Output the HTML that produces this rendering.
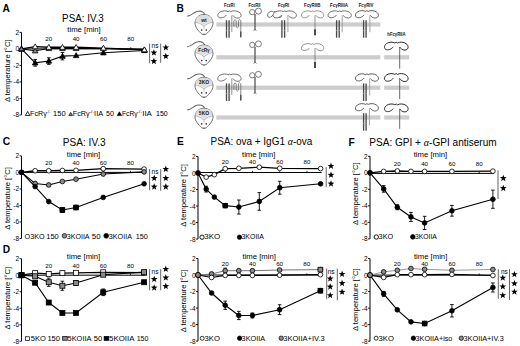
<!DOCTYPE html>
<html><head><meta charset="utf-8"><style>
html,body{margin:0;padding:0;background:#fff;}
svg{display:block;}
text{font-family:"Liberation Sans",sans-serif;}
</style></head><body>
<svg width="520" height="346" viewBox="0 0 520 346">
<rect width="520" height="346" fill="#fff"/>
<text x="2.6" y="11.6" font-size="10.2" text-anchor="start" font-weight="bold" fill="#000" >A</text>
<text x="176.6" y="11.8" font-size="10.2" text-anchor="start" font-weight="bold" fill="#000" >B</text>
<text x="2.8" y="145.4" font-size="10.2" text-anchor="start" font-weight="bold" fill="#000" >C</text>
<text x="2.8" y="253.4" font-size="10.2" text-anchor="start" font-weight="bold" fill="#000" >D</text>
<text x="176.9" y="145.2" font-size="10.2" text-anchor="start" font-weight="bold" fill="#000" >E</text>
<text x="348.6" y="145.5" font-size="10.2" text-anchor="start" font-weight="bold" fill="#000" >F</text>
<text x="62.1" y="21.6" font-size="10.2" text-anchor="start" font-weight="normal" fill="#000" textLength="41.6" lengthAdjust="spacingAndGlyphs">PSA: IV.3</text>
<text x="67.3" y="32.2" font-size="7.4" text-anchor="start" font-weight="normal" fill="#000" textLength="33.4" lengthAdjust="spacingAndGlyphs">time [min]</text>
<line x1="21.5" y1="32.38" x2="21.5" y2="114.98" stroke="#000" stroke-width="1.0"/>
<line x1="19.5" y1="32.38" x2="21.5" y2="32.38" stroke="#000" stroke-width="0.9"/>
<text x="19.1" y="34.88" font-size="6.5" text-anchor="end" font-weight="normal" fill="#000" >2</text>
<line x1="19.5" y1="48.9" x2="21.5" y2="48.9" stroke="#000" stroke-width="0.9"/>
<text x="19.1" y="51.4" font-size="6.5" text-anchor="end" font-weight="normal" fill="#000" >0</text>
<line x1="19.5" y1="65.42" x2="21.5" y2="65.42" stroke="#000" stroke-width="0.9"/>
<text x="19.1" y="67.92" font-size="6.5" text-anchor="end" font-weight="normal" fill="#000" >-2</text>
<line x1="19.5" y1="81.94" x2="21.5" y2="81.94" stroke="#000" stroke-width="0.9"/>
<text x="19.1" y="84.44" font-size="6.5" text-anchor="end" font-weight="normal" fill="#000" >-4</text>
<line x1="19.5" y1="98.46" x2="21.5" y2="98.46" stroke="#000" stroke-width="0.9"/>
<text x="19.1" y="100.96" font-size="6.5" text-anchor="end" font-weight="normal" fill="#000" >-6</text>
<line x1="19.5" y1="114.98" x2="21.5" y2="114.98" stroke="#000" stroke-width="0.9"/>
<text x="19.1" y="117.48" font-size="6.5" text-anchor="end" font-weight="normal" fill="#000" >-8</text>
<line x1="21.5" y1="48.9" x2="145.4" y2="48.9" stroke="#000" stroke-width="1.0"/>
<line x1="48.81" y1="48.9" x2="48.81" y2="47.3" stroke="#000" stroke-width="0.8"/>
<text x="48.81" y="41" font-size="6.2" text-anchor="middle" font-weight="normal" fill="#000" >20</text>
<line x1="76.12" y1="48.9" x2="76.12" y2="47.3" stroke="#000" stroke-width="0.8"/>
<text x="76.12" y="41" font-size="6.2" text-anchor="middle" font-weight="normal" fill="#000" >40</text>
<line x1="103.43" y1="48.9" x2="103.43" y2="47.3" stroke="#000" stroke-width="0.8"/>
<text x="103.43" y="41" font-size="6.2" text-anchor="middle" font-weight="normal" fill="#000" >60</text>
<line x1="130.74" y1="48.9" x2="130.74" y2="47.3" stroke="#000" stroke-width="0.8"/>
<text x="130.74" y="41" font-size="6.2" text-anchor="middle" font-weight="normal" fill="#000" >80</text>
<text transform="translate(10.1,70.8) rotate(-90)" x="0" y="0" font-size="7.6" text-anchor="middle">&#916; temperature [°C]</text>
<polyline points="21.5,48.9 35.16,62.86 48.81,61.04 62.47,56.17 76.12,55.51 103.43,52.78 144.4,50.55" fill="none" stroke="#000" stroke-width="1.1"/>
<path d="M35.16,59.56V66.16M33.36,59.56H36.96M33.36,66.16H36.96" stroke="#000" stroke-width="0.9" fill="none"/>
<path d="M48.81,57.74V64.35M47.01,57.74H50.61M47.01,64.35H50.61" stroke="#000" stroke-width="0.9" fill="none"/>
<path d="M62.47,52.45V59.89M60.67,52.45H64.27M60.67,59.89H64.27" stroke="#000" stroke-width="0.9" fill="none"/>
<polygon points="21.5,46.1 24.3,51 18.7,51" fill="#000" stroke="#000" stroke-width="0.8" stroke-linejoin="round"/>
<polygon points="35.16,60.06 37.96,64.96 32.36,64.96" fill="#000" stroke="#000" stroke-width="0.8" stroke-linejoin="round"/>
<polygon points="48.81,58.24 51.61,63.14 46.01,63.14" fill="#000" stroke="#000" stroke-width="0.8" stroke-linejoin="round"/>
<polygon points="62.47,53.37 65.27,58.27 59.67,58.27" fill="#000" stroke="#000" stroke-width="0.8" stroke-linejoin="round"/>
<polygon points="76.12,52.71 78.92,57.61 73.32,57.61" fill="#000" stroke="#000" stroke-width="0.8" stroke-linejoin="round"/>
<polygon points="103.43,49.98 106.23,54.88 100.63,54.88" fill="#000" stroke="#000" stroke-width="0.8" stroke-linejoin="round"/>
<polygon points="144.4,47.75 147.2,52.65 141.6,52.65" fill="#000" stroke="#000" stroke-width="0.8" stroke-linejoin="round"/>
<polyline points="21.5,48.9 35.16,50.8 48.81,48.49 62.47,48.49 76.12,48.49 103.43,48.49 144.4,49.73" fill="none" stroke="#000" stroke-width="1.0"/>
<polygon points="21.5,46.1 24.3,51 18.7,51" fill="#8a8a8a" stroke="#000" stroke-width="0.8" stroke-linejoin="round"/>
<polygon points="35.16,48 37.96,52.9 32.36,52.9" fill="#8a8a8a" stroke="#000" stroke-width="0.8" stroke-linejoin="round"/>
<polygon points="48.81,45.69 51.61,50.59 46.01,50.59" fill="#8a8a8a" stroke="#000" stroke-width="0.8" stroke-linejoin="round"/>
<polygon points="62.47,45.69 65.27,50.59 59.67,50.59" fill="#8a8a8a" stroke="#000" stroke-width="0.8" stroke-linejoin="round"/>
<polygon points="76.12,45.69 78.92,50.59 73.32,50.59" fill="#8a8a8a" stroke="#000" stroke-width="0.8" stroke-linejoin="round"/>
<polygon points="103.43,45.69 106.23,50.59 100.63,50.59" fill="#8a8a8a" stroke="#000" stroke-width="0.8" stroke-linejoin="round"/>
<polygon points="144.4,46.93 147.2,51.83 141.6,51.83" fill="#8a8a8a" stroke="#000" stroke-width="0.8" stroke-linejoin="round"/>
<polyline points="21.5,48.9 35.16,46.67 48.81,47.25 62.47,47.25 76.12,47.25 103.43,48.07 144.4,49.73" fill="none" stroke="#000" stroke-width="1.3"/>
<polygon points="21.5,46.1 24.3,51 18.7,51" fill="#fff" stroke="#000" stroke-width="0.8" stroke-linejoin="round"/>
<polygon points="35.16,43.87 37.96,48.77 32.36,48.77" fill="#fff" stroke="#000" stroke-width="0.8" stroke-linejoin="round"/>
<polygon points="48.81,44.45 51.61,49.35 46.01,49.35" fill="#fff" stroke="#000" stroke-width="0.8" stroke-linejoin="round"/>
<polygon points="62.47,44.45 65.27,49.35 59.67,49.35" fill="#fff" stroke="#000" stroke-width="0.8" stroke-linejoin="round"/>
<polygon points="76.12,44.45 78.92,49.35 73.32,49.35" fill="#fff" stroke="#000" stroke-width="0.8" stroke-linejoin="round"/>
<polygon points="103.43,45.27 106.23,50.17 100.63,50.17" fill="#fff" stroke="#000" stroke-width="0.8" stroke-linejoin="round"/>
<polygon points="144.4,46.93 147.2,51.83 141.6,51.83" fill="#fff" stroke="#000" stroke-width="0.8" stroke-linejoin="round"/>
<polygon points="21.5,46.52 23.88,50.68 19.12,50.68" fill="#8a8a8a" stroke="#000" stroke-width="0.8" stroke-linejoin="round"/>
<line x1="149.6" y1="43.6" x2="149.6" y2="63.3" stroke="#555" stroke-width="0.9"/>
<line x1="160.7" y1="43.6" x2="160.7" y2="62.8" stroke="#555" stroke-width="0.9"/>
<text x="155" y="48.2" font-size="6.5" text-anchor="middle" font-weight="normal" fill="#000" >ns</text>
<polygon points="153.9,49.2 154.76,51.51 157.23,51.62 155.3,53.15 155.96,55.53 153.9,54.17 151.84,55.53 152.5,53.15 150.57,51.62 153.04,51.51" fill="#000"/>
<polygon points="153.9,57.8 154.76,60.11 157.23,60.22 155.3,61.75 155.96,64.13 153.9,62.77 151.84,64.13 152.5,61.75 150.57,60.22 153.04,60.11" fill="#000"/>
<polygon points="165.8,44.1 166.66,46.41 169.13,46.52 167.2,48.05 167.86,50.43 165.8,49.07 163.74,50.43 164.4,48.05 162.47,46.52 164.94,46.41" fill="#000"/>
<polygon points="165.8,52.7 166.66,55.01 169.13,55.12 167.2,56.65 167.86,59.03 165.8,57.67 163.74,59.03 164.4,56.65 162.47,55.12 164.94,55.01" fill="#000"/>
<text x="62.8" y="145.6" font-size="10.2" text-anchor="start" font-weight="normal" fill="#000" textLength="42.8" lengthAdjust="spacingAndGlyphs">PSA: IV.3</text>
<text x="66.8" y="157" font-size="7.4" text-anchor="start" font-weight="normal" fill="#000" textLength="33.4" lengthAdjust="spacingAndGlyphs">time [min]</text>
<line x1="21.5" y1="155.88" x2="21.5" y2="238.48" stroke="#000" stroke-width="1.0"/>
<line x1="19.5" y1="155.88" x2="21.5" y2="155.88" stroke="#000" stroke-width="0.9"/>
<text x="19.1" y="158.38" font-size="6.5" text-anchor="end" font-weight="normal" fill="#000" >2</text>
<line x1="19.5" y1="172.4" x2="21.5" y2="172.4" stroke="#000" stroke-width="0.9"/>
<text x="19.1" y="174.9" font-size="6.5" text-anchor="end" font-weight="normal" fill="#000" >0</text>
<line x1="19.5" y1="188.92" x2="21.5" y2="188.92" stroke="#000" stroke-width="0.9"/>
<text x="19.1" y="191.42" font-size="6.5" text-anchor="end" font-weight="normal" fill="#000" >-2</text>
<line x1="19.5" y1="205.44" x2="21.5" y2="205.44" stroke="#000" stroke-width="0.9"/>
<text x="19.1" y="207.94" font-size="6.5" text-anchor="end" font-weight="normal" fill="#000" >-4</text>
<line x1="19.5" y1="221.96" x2="21.5" y2="221.96" stroke="#000" stroke-width="0.9"/>
<text x="19.1" y="224.46" font-size="6.5" text-anchor="end" font-weight="normal" fill="#000" >-6</text>
<line x1="19.5" y1="238.48" x2="21.5" y2="238.48" stroke="#000" stroke-width="0.9"/>
<text x="19.1" y="240.98" font-size="6.5" text-anchor="end" font-weight="normal" fill="#000" >-8</text>
<line x1="21.5" y1="172.4" x2="145.1" y2="172.4" stroke="#000" stroke-width="1.0"/>
<line x1="48.74" y1="172.4" x2="48.74" y2="170.8" stroke="#000" stroke-width="0.8"/>
<text x="48.74" y="164.9" font-size="6.2" text-anchor="middle" font-weight="normal" fill="#000" >20</text>
<line x1="75.99" y1="172.4" x2="75.99" y2="170.8" stroke="#000" stroke-width="0.8"/>
<text x="75.99" y="164.9" font-size="6.2" text-anchor="middle" font-weight="normal" fill="#000" >40</text>
<line x1="103.23" y1="172.4" x2="103.23" y2="170.8" stroke="#000" stroke-width="0.8"/>
<text x="103.23" y="164.9" font-size="6.2" text-anchor="middle" font-weight="normal" fill="#000" >60</text>
<line x1="130.48" y1="172.4" x2="130.48" y2="170.8" stroke="#000" stroke-width="0.8"/>
<text x="130.48" y="164.9" font-size="6.2" text-anchor="middle" font-weight="normal" fill="#000" >80</text>
<text transform="translate(10.1,198.5) rotate(-90)" x="0" y="0" font-size="7.6" text-anchor="middle">&#916; temperature [°C]</text>
<polyline points="21.5,172.4 35.12,170.75 48.74,170.75 62.37,170.5 75.99,170.34 103.23,168.68 144.1,169.1" fill="none" stroke="#000" stroke-width="1.3"/>
<circle cx="21.5" cy="172.4" r="2.35" fill="#fff" stroke="#000" stroke-width="0.8"/>
<circle cx="35.12" cy="170.75" r="2.35" fill="#fff" stroke="#000" stroke-width="0.8"/>
<circle cx="48.74" cy="170.75" r="2.35" fill="#fff" stroke="#000" stroke-width="0.8"/>
<circle cx="62.37" cy="170.5" r="2.35" fill="#fff" stroke="#000" stroke-width="0.8"/>
<circle cx="75.99" cy="170.34" r="2.35" fill="#fff" stroke="#000" stroke-width="0.8"/>
<circle cx="103.23" cy="168.68" r="2.35" fill="#fff" stroke="#000" stroke-width="0.8"/>
<circle cx="144.1" cy="169.1" r="2.35" fill="#fff" stroke="#000" stroke-width="0.8"/>
<polyline points="21.5,172.4 35.12,183.47 48.74,184.96 62.37,181.49 75.99,179.17 103.23,174.05 144.1,171.9" fill="none" stroke="#000" stroke-width="1.1"/>
<circle cx="21.5" cy="172.4" r="2.35" fill="#8a8a8a" stroke="#000" stroke-width="0.8"/>
<circle cx="35.12" cy="183.47" r="2.35" fill="#8a8a8a" stroke="#000" stroke-width="0.8"/>
<circle cx="48.74" cy="184.96" r="2.35" fill="#8a8a8a" stroke="#000" stroke-width="0.8"/>
<circle cx="62.37" cy="181.49" r="2.35" fill="#8a8a8a" stroke="#000" stroke-width="0.8"/>
<circle cx="75.99" cy="179.17" r="2.35" fill="#8a8a8a" stroke="#000" stroke-width="0.8"/>
<circle cx="103.23" cy="174.05" r="2.35" fill="#8a8a8a" stroke="#000" stroke-width="0.8"/>
<circle cx="144.1" cy="171.9" r="2.35" fill="#8a8a8a" stroke="#000" stroke-width="0.8"/>
<polyline points="21.5,172.4 35.12,186.61 48.74,201.56 62.37,209.98 75.99,207.5 103.23,197.43 144.1,183.8" fill="none" stroke="#000" stroke-width="1.1"/>
<path d="M62.37,207.5V212.46M60.57,207.5H64.17M60.57,212.46H64.17" stroke="#000" stroke-width="0.9" fill="none"/>
<path d="M75.99,205.44V209.57M74.19,205.44H77.79M74.19,209.57H77.79" stroke="#000" stroke-width="0.9" fill="none"/>
<circle cx="21.5" cy="172.4" r="2.35" fill="#000" stroke="#000" stroke-width="0.8"/>
<circle cx="35.12" cy="186.61" r="2.35" fill="#000" stroke="#000" stroke-width="0.8"/>
<circle cx="48.74" cy="201.56" r="2.35" fill="#000" stroke="#000" stroke-width="0.8"/>
<circle cx="62.37" cy="209.98" r="2.35" fill="#000" stroke="#000" stroke-width="0.8"/>
<circle cx="75.99" cy="207.5" r="2.35" fill="#000" stroke="#000" stroke-width="0.8"/>
<circle cx="103.23" cy="197.43" r="2.35" fill="#000" stroke="#000" stroke-width="0.8"/>
<circle cx="144.1" cy="183.8" r="2.35" fill="#000" stroke="#000" stroke-width="0.8"/>
<rect x="59.99" y="207.61" width="4.75" height="4.75" fill="#000" stroke="#000" stroke-width="0.8"/>
<rect x="73.61" y="205.13" width="4.75" height="4.75" fill="#000" stroke="#000" stroke-width="0.8"/>
<line x1="149.6" y1="169.1" x2="149.6" y2="190.3" stroke="#555" stroke-width="0.9"/>
<line x1="160.7" y1="169.1" x2="160.7" y2="190.8" stroke="#555" stroke-width="0.9"/>
<text x="155" y="173.8" font-size="6.5" text-anchor="middle" font-weight="normal" fill="#000" >ns</text>
<polygon points="154.2,174.7 155.06,177.01 157.53,177.12 155.6,178.65 156.26,181.03 154.2,179.67 152.14,181.03 152.8,178.65 150.87,177.12 153.34,177.01" fill="#000"/>
<polygon points="154.2,183.3 155.06,185.61 157.53,185.72 155.6,187.25 156.26,189.63 154.2,188.27 152.14,189.63 152.8,187.25 150.87,185.72 153.34,185.61" fill="#000"/>
<polygon points="165.8,165.6 166.66,167.91 169.13,168.02 167.2,169.55 167.86,171.93 165.8,170.57 163.74,171.93 164.4,169.55 162.47,168.02 164.94,167.91" fill="#000"/>
<polygon points="165.8,174.7 166.66,177.01 169.13,177.12 167.2,178.65 167.86,181.03 165.8,179.67 163.74,181.03 164.4,178.65 162.47,177.12 164.94,177.01" fill="#000"/>
<polygon points="165.8,183.3 166.66,185.61 169.13,185.72 167.2,187.25 167.86,189.63 165.8,188.27 163.74,189.63 164.4,187.25 162.47,185.72 164.94,185.61" fill="#000"/>
<text x="66.8" y="258.8" font-size="7.4" text-anchor="start" font-weight="normal" fill="#000" textLength="33.4" lengthAdjust="spacingAndGlyphs">time [min]</text>
<line x1="21.5" y1="258.68" x2="21.5" y2="341.28" stroke="#000" stroke-width="1.0"/>
<line x1="19.5" y1="258.68" x2="21.5" y2="258.68" stroke="#000" stroke-width="0.9"/>
<text x="19.1" y="261.18" font-size="6.5" text-anchor="end" font-weight="normal" fill="#000" >2</text>
<line x1="19.5" y1="275.2" x2="21.5" y2="275.2" stroke="#000" stroke-width="0.9"/>
<text x="19.1" y="277.7" font-size="6.5" text-anchor="end" font-weight="normal" fill="#000" >0</text>
<line x1="19.5" y1="291.72" x2="21.5" y2="291.72" stroke="#000" stroke-width="0.9"/>
<text x="19.1" y="294.22" font-size="6.5" text-anchor="end" font-weight="normal" fill="#000" >-2</text>
<line x1="19.5" y1="308.24" x2="21.5" y2="308.24" stroke="#000" stroke-width="0.9"/>
<text x="19.1" y="310.74" font-size="6.5" text-anchor="end" font-weight="normal" fill="#000" >-4</text>
<line x1="19.5" y1="324.76" x2="21.5" y2="324.76" stroke="#000" stroke-width="0.9"/>
<text x="19.1" y="327.26" font-size="6.5" text-anchor="end" font-weight="normal" fill="#000" >-6</text>
<line x1="19.5" y1="341.28" x2="21.5" y2="341.28" stroke="#000" stroke-width="0.9"/>
<text x="19.1" y="343.78" font-size="6.5" text-anchor="end" font-weight="normal" fill="#000" >-8</text>
<line x1="21.5" y1="275.2" x2="145.1" y2="275.2" stroke="#000" stroke-width="1.0"/>
<line x1="48.74" y1="275.2" x2="48.74" y2="273.6" stroke="#000" stroke-width="0.8"/>
<text x="48.74" y="267.8" font-size="6.2" text-anchor="middle" font-weight="normal" fill="#000" >20</text>
<line x1="75.99" y1="275.2" x2="75.99" y2="273.6" stroke="#000" stroke-width="0.8"/>
<text x="75.99" y="267.8" font-size="6.2" text-anchor="middle" font-weight="normal" fill="#000" >40</text>
<line x1="103.23" y1="275.2" x2="103.23" y2="273.6" stroke="#000" stroke-width="0.8"/>
<text x="103.23" y="267.8" font-size="6.2" text-anchor="middle" font-weight="normal" fill="#000" >60</text>
<line x1="130.48" y1="275.2" x2="130.48" y2="273.6" stroke="#000" stroke-width="0.8"/>
<text x="130.48" y="267.8" font-size="6.2" text-anchor="middle" font-weight="normal" fill="#000" >80</text>
<text transform="translate(10.1,298.2) rotate(-90)" x="0" y="0" font-size="7.6" text-anchor="middle">&#916; temperature [°C]</text>
<polyline points="21.5,275.2 35.12,273.13 48.74,273.88 62.37,273.13 75.99,272.8 103.23,272.31 144.1,272.72" fill="none" stroke="#000" stroke-width="1.3"/>
<rect x="19" y="272.7" width="5" height="5" fill="#fff" stroke="#000" stroke-width="0.8"/>
<rect x="32.62" y="270.63" width="5" height="5" fill="#fff" stroke="#000" stroke-width="0.8"/>
<rect x="46.24" y="271.38" width="5" height="5" fill="#fff" stroke="#000" stroke-width="0.8"/>
<rect x="59.87" y="270.63" width="5" height="5" fill="#fff" stroke="#000" stroke-width="0.8"/>
<rect x="73.49" y="270.3" width="5" height="5" fill="#fff" stroke="#000" stroke-width="0.8"/>
<rect x="100.73" y="269.81" width="5" height="5" fill="#fff" stroke="#000" stroke-width="0.8"/>
<rect x="141.6" y="270.22" width="5" height="5" fill="#fff" stroke="#000" stroke-width="0.8"/>
<polyline points="21.5,275.2 35.12,276.27 48.74,282.22 62.37,285.77 75.99,282.96 103.23,274.7 144.1,272.14" fill="none" stroke="#000" stroke-width="1.1"/>
<path d="M48.74,278.09V286.35M46.94,278.09H50.54M46.94,286.35H50.54" stroke="#000" stroke-width="0.9" fill="none"/>
<path d="M62.37,281.23V290.32M60.57,281.23H64.17M60.57,290.32H64.17" stroke="#000" stroke-width="0.9" fill="none"/>
<path d="M75.99,280.49V285.44M74.19,280.49H77.79M74.19,285.44H77.79" stroke="#000" stroke-width="0.9" fill="none"/>
<rect x="19" y="272.7" width="5" height="5" fill="#8a8a8a" stroke="#000" stroke-width="0.8"/>
<rect x="32.62" y="273.77" width="5" height="5" fill="#8a8a8a" stroke="#000" stroke-width="0.8"/>
<rect x="46.24" y="279.72" width="5" height="5" fill="#8a8a8a" stroke="#000" stroke-width="0.8"/>
<rect x="59.87" y="283.27" width="5" height="5" fill="#8a8a8a" stroke="#000" stroke-width="0.8"/>
<rect x="73.49" y="280.46" width="5" height="5" fill="#8a8a8a" stroke="#000" stroke-width="0.8"/>
<rect x="100.73" y="272.2" width="5" height="5" fill="#8a8a8a" stroke="#000" stroke-width="0.8"/>
<rect x="141.6" y="269.64" width="5" height="5" fill="#8a8a8a" stroke="#000" stroke-width="0.8"/>
<polyline points="21.5,275.2 35.12,282.72 48.74,302.54 62.37,312.95 75.99,312.95 103.23,292.3 144.1,282.22" fill="none" stroke="#000" stroke-width="1.1"/>
<path d="M103.23,288.99V295.6M101.43,288.99H105.03M101.43,295.6H105.03" stroke="#000" stroke-width="0.9" fill="none"/>
<rect x="19" y="272.7" width="5" height="5" fill="#000" stroke="#000" stroke-width="0.8"/>
<rect x="32.62" y="280.22" width="5" height="5" fill="#000" stroke="#000" stroke-width="0.8"/>
<rect x="46.24" y="300.04" width="5" height="5" fill="#000" stroke="#000" stroke-width="0.8"/>
<rect x="59.87" y="310.45" width="5" height="5" fill="#000" stroke="#000" stroke-width="0.8"/>
<rect x="73.49" y="310.45" width="5" height="5" fill="#000" stroke="#000" stroke-width="0.8"/>
<rect x="100.73" y="289.8" width="5" height="5" fill="#000" stroke="#000" stroke-width="0.8"/>
<rect x="141.6" y="279.72" width="5" height="5" fill="#000" stroke="#000" stroke-width="0.8"/>
<line x1="149.6" y1="269.1" x2="149.6" y2="290.3" stroke="#555" stroke-width="0.9"/>
<line x1="160.7" y1="269.1" x2="160.7" y2="290.3" stroke="#555" stroke-width="0.9"/>
<text x="155" y="273.8" font-size="6.5" text-anchor="middle" font-weight="normal" fill="#000" >ns</text>
<polygon points="154.2,275.7 155.06,278.01 157.53,278.12 155.6,279.65 156.26,282.03 154.2,280.67 152.14,282.03 152.8,279.65 150.87,278.12 153.34,278.01" fill="#000"/>
<polygon points="154.2,284.3 155.06,286.61 157.53,286.72 155.6,288.25 156.26,290.63 154.2,289.27 152.14,290.63 152.8,288.25 150.87,286.72 153.34,286.61" fill="#000"/>
<polygon points="165.8,265.6 166.66,267.91 169.13,268.02 167.2,269.55 167.86,271.93 165.8,270.57 163.74,271.93 164.4,269.55 162.47,268.02 164.94,267.91" fill="#000"/>
<polygon points="165.8,274.2 166.66,276.51 169.13,276.62 167.2,278.15 167.86,280.53 165.8,279.17 163.74,280.53 164.4,278.15 162.47,276.62 164.94,276.51" fill="#000"/>
<polygon points="165.8,282.8 166.66,285.11 169.13,285.22 167.2,286.75 167.86,289.13 165.8,287.77 163.74,289.13 164.4,286.75 162.47,285.22 164.94,285.11" fill="#000"/>
<text x="210.5" y="145.4" font-size="10.2" text-anchor="start" font-weight="normal" fill="#000" textLength="101.8" lengthAdjust="spacingAndGlyphs">PSA: ova + IgG1 <tspan font-family="Liberation Serif" font-style="italic">α</tspan>-ova</text>
<text x="242" y="156.8" font-size="7.4" text-anchor="start" font-weight="normal" fill="#000" textLength="33.4" lengthAdjust="spacingAndGlyphs">time [min]</text>
<line x1="198" y1="156.48" x2="198" y2="239.08" stroke="#000" stroke-width="1.0"/>
<line x1="196" y1="156.48" x2="198" y2="156.48" stroke="#000" stroke-width="0.9"/>
<text x="195.6" y="158.98" font-size="6.5" text-anchor="end" font-weight="normal" fill="#000" >2</text>
<line x1="196" y1="173" x2="198" y2="173" stroke="#000" stroke-width="0.9"/>
<text x="195.6" y="175.5" font-size="6.5" text-anchor="end" font-weight="normal" fill="#000" >0</text>
<line x1="196" y1="189.52" x2="198" y2="189.52" stroke="#000" stroke-width="0.9"/>
<text x="195.6" y="192.02" font-size="6.5" text-anchor="end" font-weight="normal" fill="#000" >-2</text>
<line x1="196" y1="206.04" x2="198" y2="206.04" stroke="#000" stroke-width="0.9"/>
<text x="195.6" y="208.54" font-size="6.5" text-anchor="end" font-weight="normal" fill="#000" >-4</text>
<line x1="196" y1="222.56" x2="198" y2="222.56" stroke="#000" stroke-width="0.9"/>
<text x="195.6" y="225.06" font-size="6.5" text-anchor="end" font-weight="normal" fill="#000" >-6</text>
<line x1="196" y1="239.08" x2="198" y2="239.08" stroke="#000" stroke-width="0.9"/>
<text x="195.6" y="241.58" font-size="6.5" text-anchor="end" font-weight="normal" fill="#000" >-8</text>
<line x1="198" y1="172.5" x2="321.6" y2="172.5" stroke="#000" stroke-width="1.0"/>
<line x1="225.24" y1="172.5" x2="225.24" y2="170.9" stroke="#000" stroke-width="0.8"/>
<text x="225.24" y="163.6" font-size="6.2" text-anchor="middle" font-weight="normal" fill="#000" >20</text>
<line x1="252.49" y1="172.5" x2="252.49" y2="170.9" stroke="#000" stroke-width="0.8"/>
<text x="252.49" y="163.6" font-size="6.2" text-anchor="middle" font-weight="normal" fill="#000" >40</text>
<line x1="279.73" y1="172.5" x2="279.73" y2="170.9" stroke="#000" stroke-width="0.8"/>
<text x="279.73" y="163.6" font-size="6.2" text-anchor="middle" font-weight="normal" fill="#000" >60</text>
<line x1="306.98" y1="172.5" x2="306.98" y2="170.9" stroke="#000" stroke-width="0.8"/>
<text x="306.98" y="163.6" font-size="6.2" text-anchor="middle" font-weight="normal" fill="#000" >80</text>
<text transform="translate(185.9,195.4) rotate(-90)" x="0" y="0" font-size="7.6" text-anchor="middle">&#916; temperature [°C]</text>
<polyline points="198,173 206.17,177.13 214.35,174.65 225.24,168.7 238.87,168.29 259.3,167.22 279.73,168.29 320.6,168.62" fill="none" stroke="#000" stroke-width="1.2"/>
<circle cx="198" cy="173" r="2.35" fill="#fff" stroke="#000" stroke-width="0.8"/>
<circle cx="206.17" cy="177.13" r="2.35" fill="#fff" stroke="#000" stroke-width="0.8"/>
<circle cx="214.35" cy="174.65" r="2.35" fill="#fff" stroke="#000" stroke-width="0.8"/>
<circle cx="225.24" cy="168.7" r="2.35" fill="#fff" stroke="#000" stroke-width="0.8"/>
<circle cx="238.87" cy="168.29" r="2.35" fill="#fff" stroke="#000" stroke-width="0.8"/>
<circle cx="259.3" cy="167.22" r="2.35" fill="#fff" stroke="#000" stroke-width="0.8"/>
<circle cx="279.73" cy="168.29" r="2.35" fill="#fff" stroke="#000" stroke-width="0.8"/>
<circle cx="320.6" cy="168.62" r="2.35" fill="#fff" stroke="#000" stroke-width="0.8"/>
<polyline points="198,173 206.17,189.11 214.35,197.12 225.24,205.63 238.87,207.03 259.3,201.41 279.73,187.7 320.6,183.82" fill="none" stroke="#000" stroke-width="1.1"/>
<path d="M206.17,186.22V192M204.37,186.22H207.97M204.37,192H207.97" stroke="#000" stroke-width="0.9" fill="none"/>
<path d="M225.24,203.97V207.28M223.44,203.97H227.04M223.44,207.28H227.04" stroke="#000" stroke-width="0.9" fill="none"/>
<path d="M238.87,200.01V214.05M237.07,200.01H240.67M237.07,214.05H240.67" stroke="#000" stroke-width="0.9" fill="none"/>
<path d="M259.3,192.58V210.25M257.5,192.58H261.1M257.5,210.25H261.1" stroke="#000" stroke-width="0.9" fill="none"/>
<path d="M279.73,181.26V194.15M277.93,181.26H281.53M277.93,194.15H281.53" stroke="#000" stroke-width="0.9" fill="none"/>
<circle cx="198" cy="173" r="2.35" fill="#000" stroke="#000" stroke-width="0.8"/>
<circle cx="206.17" cy="189.11" r="2.35" fill="#000" stroke="#000" stroke-width="0.8"/>
<circle cx="214.35" cy="197.12" r="2.35" fill="#000" stroke="#000" stroke-width="0.8"/>
<circle cx="225.24" cy="205.63" r="2.35" fill="#000" stroke="#000" stroke-width="0.8"/>
<circle cx="238.87" cy="207.03" r="2.35" fill="#000" stroke="#000" stroke-width="0.8"/>
<circle cx="259.3" cy="201.41" r="2.35" fill="#000" stroke="#000" stroke-width="0.8"/>
<circle cx="279.73" cy="187.7" r="2.35" fill="#000" stroke="#000" stroke-width="0.8"/>
<circle cx="320.6" cy="183.82" r="2.35" fill="#000" stroke="#000" stroke-width="0.8"/>
<rect x="222.99" y="203.38" width="4.5" height="4.5" fill="#000" stroke="#000" stroke-width="0.8"/>
<line x1="326.2" y1="167.1" x2="326.2" y2="186.8" stroke="#555" stroke-width="0.9"/>
<polygon points="331,162.6 331.86,164.91 334.33,165.02 332.4,166.55 333.06,168.93 331,167.57 328.94,168.93 329.6,166.55 327.67,165.02 330.14,164.91" fill="#000"/>
<polygon points="331,171.5 331.86,173.81 334.33,173.92 332.4,175.45 333.06,177.83 331,176.47 328.94,177.83 329.6,175.45 327.67,173.92 330.14,173.81" fill="#000"/>
<polygon points="331,180.3 331.86,182.61 334.33,182.72 332.4,184.25 333.06,186.63 331,185.27 328.94,186.63 329.6,184.25 327.67,182.72 330.14,182.61" fill="#000"/>
<text x="242.5" y="258.8" font-size="7.4" text-anchor="start" font-weight="normal" fill="#000" textLength="33.4" lengthAdjust="spacingAndGlyphs">time [min]</text>
<line x1="198" y1="258.48" x2="198" y2="341.08" stroke="#000" stroke-width="1.0"/>
<line x1="196" y1="258.48" x2="198" y2="258.48" stroke="#000" stroke-width="0.9"/>
<text x="195.6" y="260.98" font-size="6.5" text-anchor="end" font-weight="normal" fill="#000" >2</text>
<line x1="196" y1="275" x2="198" y2="275" stroke="#000" stroke-width="0.9"/>
<text x="195.6" y="277.5" font-size="6.5" text-anchor="end" font-weight="normal" fill="#000" >0</text>
<line x1="196" y1="291.52" x2="198" y2="291.52" stroke="#000" stroke-width="0.9"/>
<text x="195.6" y="294.02" font-size="6.5" text-anchor="end" font-weight="normal" fill="#000" >-2</text>
<line x1="196" y1="308.04" x2="198" y2="308.04" stroke="#000" stroke-width="0.9"/>
<text x="195.6" y="310.54" font-size="6.5" text-anchor="end" font-weight="normal" fill="#000" >-4</text>
<line x1="196" y1="324.56" x2="198" y2="324.56" stroke="#000" stroke-width="0.9"/>
<text x="195.6" y="327.06" font-size="6.5" text-anchor="end" font-weight="normal" fill="#000" >-6</text>
<line x1="196" y1="341.08" x2="198" y2="341.08" stroke="#000" stroke-width="0.9"/>
<text x="195.6" y="343.58" font-size="6.5" text-anchor="end" font-weight="normal" fill="#000" >-8</text>
<line x1="198" y1="275" x2="321.4" y2="275" stroke="#000" stroke-width="1.0"/>
<line x1="225.2" y1="275" x2="225.2" y2="273.4" stroke="#000" stroke-width="0.8"/>
<text x="225.2" y="265.8" font-size="6.2" text-anchor="middle" font-weight="normal" fill="#000" >20</text>
<line x1="252.4" y1="275" x2="252.4" y2="273.4" stroke="#000" stroke-width="0.8"/>
<text x="252.4" y="265.8" font-size="6.2" text-anchor="middle" font-weight="normal" fill="#000" >40</text>
<line x1="279.6" y1="275" x2="279.6" y2="273.4" stroke="#000" stroke-width="0.8"/>
<text x="279.6" y="265.8" font-size="6.2" text-anchor="middle" font-weight="normal" fill="#000" >60</text>
<line x1="306.8" y1="275" x2="306.8" y2="273.4" stroke="#000" stroke-width="0.8"/>
<text x="306.8" y="265.8" font-size="6.2" text-anchor="middle" font-weight="normal" fill="#000" >80</text>
<text transform="translate(185.9,301) rotate(-90)" x="0" y="0" font-size="7.6" text-anchor="middle">&#916; temperature [°C]</text>
<polyline points="198,275 211.6,273.93 225.2,270.7 238.8,270.7 252.4,270.7 279.6,270.04 320.4,269.63" fill="none" stroke="#777" stroke-width="1.0"/>
<path d="M225.2,268.23V273.18M223.4,268.23H227M223.4,273.18H227" stroke="#000" stroke-width="0.9" fill="none"/>
<circle cx="198" cy="275" r="2.35" fill="#8a8a8a" stroke="#000" stroke-width="0.8"/>
<circle cx="211.6" cy="273.93" r="2.35" fill="#8a8a8a" stroke="#000" stroke-width="0.8"/>
<circle cx="225.2" cy="270.7" r="2.35" fill="#8a8a8a" stroke="#000" stroke-width="0.8"/>
<circle cx="238.8" cy="270.7" r="2.35" fill="#8a8a8a" stroke="#000" stroke-width="0.8"/>
<circle cx="252.4" cy="270.7" r="2.35" fill="#8a8a8a" stroke="#000" stroke-width="0.8"/>
<circle cx="279.6" cy="270.04" r="2.35" fill="#8a8a8a" stroke="#000" stroke-width="0.8"/>
<circle cx="320.4" cy="269.63" r="2.35" fill="#8a8a8a" stroke="#000" stroke-width="0.8"/>
<polyline points="198,275 211.6,277.48 225.2,275.41 238.8,275.41 252.4,275.41 279.6,275.17 320.4,274.67" fill="none" stroke="#000" stroke-width="1.2"/>
<circle cx="198" cy="275" r="2.35" fill="#fff" stroke="#000" stroke-width="0.8"/>
<circle cx="211.6" cy="277.48" r="2.35" fill="#fff" stroke="#000" stroke-width="0.8"/>
<circle cx="225.2" cy="275.41" r="2.35" fill="#fff" stroke="#000" stroke-width="0.8"/>
<circle cx="238.8" cy="275.41" r="2.35" fill="#fff" stroke="#000" stroke-width="0.8"/>
<circle cx="252.4" cy="275.41" r="2.35" fill="#fff" stroke="#000" stroke-width="0.8"/>
<circle cx="279.6" cy="275.17" r="2.35" fill="#fff" stroke="#000" stroke-width="0.8"/>
<circle cx="320.4" cy="274.67" r="2.35" fill="#fff" stroke="#000" stroke-width="0.8"/>
<polyline points="198,275 211.6,293.01 225.2,305.23 238.8,315.47 252.4,315.47 279.6,309.69 320.4,290.69" fill="none" stroke="#000" stroke-width="1.1"/>
<path d="M225.2,301.1V309.36M223.4,301.1H227M223.4,309.36H227" stroke="#000" stroke-width="0.9" fill="none"/>
<path d="M238.8,311.34V319.6M237,311.34H240.6M237,319.6H240.6" stroke="#000" stroke-width="0.9" fill="none"/>
<path d="M252.4,313V317.95M250.6,313H254.2M250.6,317.95H254.2" stroke="#000" stroke-width="0.9" fill="none"/>
<path d="M279.6,304.74V314.65M277.8,304.74H281.4M277.8,314.65H281.4" stroke="#000" stroke-width="0.9" fill="none"/>
<circle cx="198" cy="275" r="2.35" fill="#000" stroke="#000" stroke-width="0.8"/>
<circle cx="211.6" cy="293.01" r="2.35" fill="#000" stroke="#000" stroke-width="0.8"/>
<circle cx="225.2" cy="305.23" r="2.35" fill="#000" stroke="#000" stroke-width="0.8"/>
<circle cx="238.8" cy="315.47" r="2.35" fill="#000" stroke="#000" stroke-width="0.8"/>
<circle cx="252.4" cy="315.47" r="2.35" fill="#000" stroke="#000" stroke-width="0.8"/>
<circle cx="279.6" cy="309.69" r="2.35" fill="#000" stroke="#000" stroke-width="0.8"/>
<circle cx="320.4" cy="290.69" r="2.35" fill="#000" stroke="#000" stroke-width="0.8"/>
<circle cx="198" cy="275" r="2.47" fill="#8a8a8a" stroke="#000" stroke-width="0.8"/>
<rect x="318.02" y="267.26" width="4.75" height="4.75" fill="#8a8a8a" stroke="#000" stroke-width="0.8"/>
<rect x="318.02" y="288.32" width="4.75" height="4.75" fill="#000" stroke="#000" stroke-width="0.8"/>
<line x1="326.7" y1="268.6" x2="326.7" y2="299.2" stroke="#555" stroke-width="0.9"/>
<line x1="337.3" y1="268.6" x2="337.3" y2="300.2" stroke="#555" stroke-width="0.9"/>
<text x="331.2" y="273.6" font-size="6.5" text-anchor="middle" font-weight="normal" fill="#000" >ns</text>
<polygon points="330.2,275.2 331.06,277.51 333.53,277.62 331.6,279.15 332.26,281.53 330.2,280.17 328.14,281.53 328.8,279.15 326.87,277.62 329.34,277.51" fill="#000"/>
<polygon points="330.2,283.3 331.06,285.61 333.53,285.72 331.6,287.25 332.26,289.63 330.2,288.27 328.14,289.63 328.8,287.25 326.87,285.72 329.34,285.61" fill="#000"/>
<polygon points="330.2,291.9 331.06,294.21 333.53,294.32 331.6,295.85 332.26,298.23 330.2,296.87 328.14,298.23 328.8,295.85 326.87,294.32 329.34,294.21" fill="#000"/>
<polygon points="342.1,270.6 342.96,272.91 345.43,273.02 343.5,274.55 344.16,276.93 342.1,275.57 340.04,276.93 340.7,274.55 338.77,273.02 341.24,272.91" fill="#000"/>
<polygon points="342.1,279.8 342.96,282.11 345.43,282.22 343.5,283.75 344.16,286.13 342.1,284.77 340.04,286.13 340.7,283.75 338.77,282.22 341.24,282.11" fill="#000"/>
<polygon points="342.1,288.5 342.96,290.81 345.43,290.92 343.5,292.45 344.16,294.83 342.1,293.47 340.04,294.83 340.7,292.45 338.77,290.92 341.24,290.81" fill="#000"/>
<text x="369.3" y="145.7" font-size="10.2" text-anchor="start" font-weight="normal" fill="#000" textLength="127.4" lengthAdjust="spacingAndGlyphs">PSA: GPI + <tspan font-family="Liberation Serif" font-style="italic">α</tspan>-GPI antiserum</text>
<text x="413.7" y="156.8" font-size="7.4" text-anchor="start" font-weight="normal" fill="#000" textLength="33.4" lengthAdjust="spacingAndGlyphs">time [min]</text>
<line x1="370" y1="156.28" x2="370" y2="238.88" stroke="#000" stroke-width="1.0"/>
<line x1="368" y1="156.28" x2="370" y2="156.28" stroke="#000" stroke-width="0.9"/>
<text x="367.6" y="158.78" font-size="6.5" text-anchor="end" font-weight="normal" fill="#000" >2</text>
<line x1="368" y1="172.8" x2="370" y2="172.8" stroke="#000" stroke-width="0.9"/>
<text x="367.6" y="175.3" font-size="6.5" text-anchor="end" font-weight="normal" fill="#000" >0</text>
<line x1="368" y1="189.32" x2="370" y2="189.32" stroke="#000" stroke-width="0.9"/>
<text x="367.6" y="191.82" font-size="6.5" text-anchor="end" font-weight="normal" fill="#000" >-2</text>
<line x1="368" y1="205.84" x2="370" y2="205.84" stroke="#000" stroke-width="0.9"/>
<text x="367.6" y="208.34" font-size="6.5" text-anchor="end" font-weight="normal" fill="#000" >-4</text>
<line x1="368" y1="222.36" x2="370" y2="222.36" stroke="#000" stroke-width="0.9"/>
<text x="367.6" y="224.86" font-size="6.5" text-anchor="end" font-weight="normal" fill="#000" >-6</text>
<line x1="368" y1="238.88" x2="370" y2="238.88" stroke="#000" stroke-width="0.9"/>
<text x="367.6" y="241.38" font-size="6.5" text-anchor="end" font-weight="normal" fill="#000" >-8</text>
<line x1="370" y1="173.4" x2="493.9" y2="173.4" stroke="#000" stroke-width="1.0"/>
<line x1="397.31" y1="173.4" x2="397.31" y2="171.8" stroke="#000" stroke-width="0.8"/>
<text x="397.31" y="165.6" font-size="6.2" text-anchor="middle" font-weight="normal" fill="#000" >20</text>
<line x1="424.62" y1="173.4" x2="424.62" y2="171.8" stroke="#000" stroke-width="0.8"/>
<text x="424.62" y="165.6" font-size="6.2" text-anchor="middle" font-weight="normal" fill="#000" >40</text>
<line x1="451.93" y1="173.4" x2="451.93" y2="171.8" stroke="#000" stroke-width="0.8"/>
<text x="451.93" y="165.6" font-size="6.2" text-anchor="middle" font-weight="normal" fill="#000" >60</text>
<line x1="479.24" y1="173.4" x2="479.24" y2="171.8" stroke="#000" stroke-width="0.8"/>
<text x="479.24" y="165.6" font-size="6.2" text-anchor="middle" font-weight="normal" fill="#000" >80</text>
<text transform="translate(357.9,193.7) rotate(-90)" x="0" y="0" font-size="7.6" text-anchor="middle">&#916; temperature [°C]</text>
<polyline points="370,172.8 383.66,171.4 397.31,170.98 410.97,171.4 424.62,171.4 451.93,171.4 492.9,171.15" fill="none" stroke="#000" stroke-width="1.3"/>
<circle cx="370" cy="172.8" r="2.35" fill="#fff" stroke="#000" stroke-width="0.8"/>
<circle cx="383.66" cy="171.4" r="2.35" fill="#fff" stroke="#000" stroke-width="0.8"/>
<circle cx="397.31" cy="170.98" r="2.35" fill="#fff" stroke="#000" stroke-width="0.8"/>
<circle cx="410.97" cy="171.4" r="2.35" fill="#fff" stroke="#000" stroke-width="0.8"/>
<circle cx="424.62" cy="171.4" r="2.35" fill="#fff" stroke="#000" stroke-width="0.8"/>
<circle cx="451.93" cy="171.4" r="2.35" fill="#fff" stroke="#000" stroke-width="0.8"/>
<circle cx="492.9" cy="171.15" r="2.35" fill="#fff" stroke="#000" stroke-width="0.8"/>
<polyline points="370,172.8 383.66,188.91 397.31,207.24 410.97,216.91 424.62,222.94 451.93,210.8 492.9,199.23" fill="none" stroke="#000" stroke-width="1.1"/>
<path d="M383.66,185.6V192.21M381.86,185.6H385.46M381.86,192.21H385.46" stroke="#000" stroke-width="0.9" fill="none"/>
<path d="M397.31,204.77V209.72M395.51,204.77H399.11M395.51,209.72H399.11" stroke="#000" stroke-width="0.9" fill="none"/>
<path d="M410.97,212.37V221.45M409.17,212.37H412.77M409.17,221.45H412.77" stroke="#000" stroke-width="0.9" fill="none"/>
<path d="M424.62,216.33V229.55M422.82,216.33H426.42M422.82,229.55H426.42" stroke="#000" stroke-width="0.9" fill="none"/>
<path d="M451.93,205.43V216.17M450.13,205.43H453.73M450.13,216.17H453.73" stroke="#000" stroke-width="0.9" fill="none"/>
<path d="M492.9,190.15V208.32M491.1,190.15H494.7M491.1,208.32H494.7" stroke="#000" stroke-width="0.9" fill="none"/>
<circle cx="370" cy="172.8" r="2.35" fill="#000" stroke="#000" stroke-width="0.8"/>
<circle cx="383.66" cy="188.91" r="2.35" fill="#000" stroke="#000" stroke-width="0.8"/>
<circle cx="397.31" cy="207.24" r="2.35" fill="#000" stroke="#000" stroke-width="0.8"/>
<circle cx="410.97" cy="216.91" r="2.35" fill="#000" stroke="#000" stroke-width="0.8"/>
<circle cx="424.62" cy="222.94" r="2.35" fill="#000" stroke="#000" stroke-width="0.8"/>
<circle cx="451.93" cy="210.8" r="2.35" fill="#000" stroke="#000" stroke-width="0.8"/>
<circle cx="492.9" cy="199.23" r="2.35" fill="#000" stroke="#000" stroke-width="0.8"/>
<line x1="498" y1="170.3" x2="498" y2="199" stroke="#555" stroke-width="0.9"/>
<polygon points="503.3,174.8 504.16,177.11 506.63,177.22 504.7,178.75 505.36,181.13 503.3,179.77 501.24,181.13 501.9,178.75 499.97,177.22 502.44,177.11" fill="#000"/>
<polygon points="503.3,184.8 504.16,187.11 506.63,187.22 504.7,188.75 505.36,191.13 503.3,189.77 501.24,191.13 501.9,188.75 499.97,187.22 502.44,187.11" fill="#000"/>
<text x="413.9" y="258.8" font-size="7.4" text-anchor="start" font-weight="normal" fill="#000" textLength="33.4" lengthAdjust="spacingAndGlyphs">time [min]</text>
<line x1="370" y1="258.58" x2="370" y2="341.18" stroke="#000" stroke-width="1.0"/>
<line x1="368" y1="258.58" x2="370" y2="258.58" stroke="#000" stroke-width="0.9"/>
<text x="367.6" y="261.08" font-size="6.5" text-anchor="end" font-weight="normal" fill="#000" >2</text>
<line x1="368" y1="275.1" x2="370" y2="275.1" stroke="#000" stroke-width="0.9"/>
<text x="367.6" y="277.6" font-size="6.5" text-anchor="end" font-weight="normal" fill="#000" >0</text>
<line x1="368" y1="291.62" x2="370" y2="291.62" stroke="#000" stroke-width="0.9"/>
<text x="367.6" y="294.12" font-size="6.5" text-anchor="end" font-weight="normal" fill="#000" >-2</text>
<line x1="368" y1="308.14" x2="370" y2="308.14" stroke="#000" stroke-width="0.9"/>
<text x="367.6" y="310.64" font-size="6.5" text-anchor="end" font-weight="normal" fill="#000" >-4</text>
<line x1="368" y1="324.66" x2="370" y2="324.66" stroke="#000" stroke-width="0.9"/>
<text x="367.6" y="327.16" font-size="6.5" text-anchor="end" font-weight="normal" fill="#000" >-6</text>
<line x1="368" y1="341.18" x2="370" y2="341.18" stroke="#000" stroke-width="0.9"/>
<text x="367.6" y="343.68" font-size="6.5" text-anchor="end" font-weight="normal" fill="#000" >-8</text>
<line x1="370" y1="275.1" x2="493.9" y2="275.1" stroke="#000" stroke-width="1.0"/>
<line x1="397.31" y1="275.1" x2="397.31" y2="273.5" stroke="#000" stroke-width="0.8"/>
<text x="397.31" y="265.6" font-size="6.2" text-anchor="middle" font-weight="normal" fill="#000" >20</text>
<line x1="424.62" y1="275.1" x2="424.62" y2="273.5" stroke="#000" stroke-width="0.8"/>
<text x="424.62" y="265.6" font-size="6.2" text-anchor="middle" font-weight="normal" fill="#000" >40</text>
<line x1="451.93" y1="275.1" x2="451.93" y2="273.5" stroke="#000" stroke-width="0.8"/>
<text x="451.93" y="265.6" font-size="6.2" text-anchor="middle" font-weight="normal" fill="#000" >60</text>
<line x1="479.24" y1="275.1" x2="479.24" y2="273.5" stroke="#000" stroke-width="0.8"/>
<text x="479.24" y="265.6" font-size="6.2" text-anchor="middle" font-weight="normal" fill="#000" >80</text>
<text transform="translate(357.9,299.7) rotate(-90)" x="0" y="0" font-size="7.6" text-anchor="middle">&#916; temperature [°C]</text>
<polyline points="370,275.1 383.66,271.88 397.31,270.31 410.97,268.49 424.62,269.32 451.93,270.31 492.9,269.48" fill="none" stroke="#999" stroke-width="1.0"/>
<circle cx="370" cy="275.1" r="2.35" fill="#8a8a8a" stroke="#000" stroke-width="0.8"/>
<circle cx="383.66" cy="271.88" r="2.35" fill="#8a8a8a" stroke="#000" stroke-width="0.8"/>
<circle cx="397.31" cy="270.31" r="2.35" fill="#8a8a8a" stroke="#000" stroke-width="0.8"/>
<circle cx="410.97" cy="268.49" r="2.35" fill="#8a8a8a" stroke="#000" stroke-width="0.8"/>
<circle cx="424.62" cy="269.32" r="2.35" fill="#8a8a8a" stroke="#000" stroke-width="0.8"/>
<circle cx="451.93" cy="270.31" r="2.35" fill="#8a8a8a" stroke="#000" stroke-width="0.8"/>
<circle cx="492.9" cy="269.48" r="2.35" fill="#8a8a8a" stroke="#000" stroke-width="0.8"/>
<polyline points="370,275.1 383.66,277.41 397.31,274.69 410.97,274.69 424.62,274.69 451.93,274.44 492.9,275.51" fill="none" stroke="#000" stroke-width="1.2"/>
<circle cx="370" cy="275.1" r="2.35" fill="#fff" stroke="#000" stroke-width="0.8"/>
<circle cx="383.66" cy="277.41" r="2.35" fill="#fff" stroke="#000" stroke-width="0.8"/>
<circle cx="397.31" cy="274.69" r="2.35" fill="#fff" stroke="#000" stroke-width="0.8"/>
<circle cx="410.97" cy="274.69" r="2.35" fill="#fff" stroke="#000" stroke-width="0.8"/>
<circle cx="424.62" cy="274.69" r="2.35" fill="#fff" stroke="#000" stroke-width="0.8"/>
<circle cx="451.93" cy="274.44" r="2.35" fill="#fff" stroke="#000" stroke-width="0.8"/>
<circle cx="492.9" cy="275.51" r="2.35" fill="#fff" stroke="#000" stroke-width="0.8"/>
<polyline points="370,275.1 383.66,293.85 397.31,309.79 410.97,321.85 424.62,323.5 451.93,310.78 492.9,287.49" fill="none" stroke="#000" stroke-width="1.1"/>
<path d="M383.66,291.37V296.33M381.86,291.37H385.46M381.86,296.33H385.46" stroke="#000" stroke-width="0.9" fill="none"/>
<path d="M424.62,321.85V325.16M422.82,321.85H426.42M422.82,325.16H426.42" stroke="#000" stroke-width="0.9" fill="none"/>
<path d="M451.93,304.59V316.98M450.13,304.59H453.73M450.13,316.98H453.73" stroke="#000" stroke-width="0.9" fill="none"/>
<path d="M492.9,282.95V292.03M491.1,282.95H494.7M491.1,292.03H494.7" stroke="#000" stroke-width="0.9" fill="none"/>
<circle cx="370" cy="275.1" r="2.35" fill="#000" stroke="#000" stroke-width="0.8"/>
<circle cx="383.66" cy="293.85" r="2.35" fill="#000" stroke="#000" stroke-width="0.8"/>
<circle cx="397.31" cy="309.79" r="2.35" fill="#000" stroke="#000" stroke-width="0.8"/>
<circle cx="410.97" cy="321.85" r="2.35" fill="#000" stroke="#000" stroke-width="0.8"/>
<circle cx="424.62" cy="323.5" r="2.35" fill="#000" stroke="#000" stroke-width="0.8"/>
<circle cx="451.93" cy="310.78" r="2.35" fill="#000" stroke="#000" stroke-width="0.8"/>
<circle cx="492.9" cy="287.49" r="2.35" fill="#000" stroke="#000" stroke-width="0.8"/>
<circle cx="370" cy="275.1" r="2.47" fill="#8a8a8a" stroke="#000" stroke-width="0.8"/>
<rect x="422.25" y="321.13" width="4.75" height="4.75" fill="#000" stroke="#000" stroke-width="0.8"/>
<line x1="498.3" y1="269.2" x2="498.3" y2="298.6" stroke="#555" stroke-width="0.9"/>
<line x1="509.5" y1="269.2" x2="509.5" y2="300" stroke="#555" stroke-width="0.9"/>
<text x="504.4" y="274.3" font-size="6.5" text-anchor="middle" font-weight="normal" fill="#000" >ns</text>
<polygon points="502.8,274.4 503.66,276.71 506.13,276.82 504.2,278.35 504.86,280.73 502.8,279.37 500.74,280.73 501.4,278.35 499.47,276.82 501.94,276.71" fill="#000"/>
<polygon points="502.8,283.1 503.66,285.41 506.13,285.52 504.2,287.05 504.86,289.43 502.8,288.07 500.74,289.43 501.4,287.05 499.47,285.52 501.94,285.41" fill="#000"/>
<polygon points="502.8,291.9 503.66,294.21 506.13,294.32 504.2,295.85 504.86,298.23 502.8,296.87 500.74,298.23 501.4,295.85 499.47,294.32 501.94,294.21" fill="#000"/>
<polygon points="514.4,270.9 515.26,273.21 517.73,273.32 515.8,274.85 516.46,277.23 514.4,275.87 512.34,277.23 513,274.85 511.07,273.32 513.54,273.21" fill="#000"/>
<polygon points="514.4,280 515.26,282.31 517.73,282.42 515.8,283.95 516.46,286.33 514.4,284.97 512.34,286.33 513,283.95 511.07,282.42 513.54,282.31" fill="#000"/>
<polygon points="514.4,288.4 515.26,290.71 517.73,290.82 515.8,292.35 516.46,294.73 514.4,293.37 512.34,294.73 513,292.35 511.07,290.82 513.54,290.71" fill="#000"/>
<polygon points="27.65,111.4 29.9,115.5 25.4,115.5" fill="#fff" stroke="#000" stroke-width="0.8" stroke-linejoin="round"/>
<text x="30" y="115.9" font-size="7.1" textLength="16.8" lengthAdjust="spacingAndGlyphs">FcRγ</text>
<text x="46.6" y="112.8" font-size="4.3" textLength="4.2" lengthAdjust="spacingAndGlyphs">-/-</text>
<text x="53" y="115.9" font-size="7.1" textLength="12.6" lengthAdjust="spacingAndGlyphs">150</text>
<polygon points="70.7,112.4 72.6,115.6 68.8,115.6" fill="#8a8a8a" stroke="#000" stroke-width="0.7" stroke-linejoin="round"/>
<text x="72.8" y="115.9" font-size="7.1" textLength="16.9" lengthAdjust="spacingAndGlyphs">FcRγ</text>
<text x="89.5" y="112.8" font-size="4.3" textLength="4.5" lengthAdjust="spacingAndGlyphs">-/-</text>
<text x="94.1" y="115.9" font-size="7.1" textLength="9" lengthAdjust="spacingAndGlyphs">IIA</text>
<text x="106" y="115.9" font-size="7.1" textLength="7.9" lengthAdjust="spacingAndGlyphs">50</text>
<polygon points="119.4,111.8 121.6,115.6 117.2,115.6" fill="#000" stroke="#000" stroke-width="0.6" stroke-linejoin="round"/>
<text x="121.9" y="115.9" font-size="7.1" textLength="15.8" lengthAdjust="spacingAndGlyphs">FcRγ</text>
<text x="137.5" y="112.8" font-size="4.3" textLength="4.6" lengthAdjust="spacingAndGlyphs">-/-</text>
<text x="142.2" y="115.9" font-size="7.1" textLength="9.7" lengthAdjust="spacingAndGlyphs">IIA</text>
<text x="156" y="115.9" font-size="7.1" textLength="11.8" lengthAdjust="spacingAndGlyphs">150</text>
<text x="24.6" y="238.5" font-size="7.1" textLength="20" lengthAdjust="spacingAndGlyphs">O3KO</text>
<text x="46.3" y="238.5" font-size="7.1" textLength="12.5" lengthAdjust="spacingAndGlyphs">150</text>
<circle cx="64.4" cy="235.8" r="2.3" fill="#8a8a8a" stroke="#000" stroke-width="0.7"/>
<text x="66.8" y="238.5" font-size="7.1" textLength="22.8" lengthAdjust="spacingAndGlyphs">3KOIIA</text>
<text x="91.8" y="238.5" font-size="7.1" textLength="8.8" lengthAdjust="spacingAndGlyphs">50</text>
<circle cx="106.2" cy="235.8" r="2.4" fill="#000" stroke="#000" stroke-width="0.7"/>
<text x="108.8" y="238.5" font-size="7.1" textLength="23.2" lengthAdjust="spacingAndGlyphs">3KOIIA</text>
<text x="135.8" y="238.5" font-size="7.1" textLength="12.1" lengthAdjust="spacingAndGlyphs">150</text>
<rect x="25.55" y="336.75" width="3.9" height="3.7" fill="#fff" stroke="#000" stroke-width="0.7"/>
<text x="30.7" y="341" font-size="7.1" textLength="15.1" lengthAdjust="spacingAndGlyphs">5KO</text>
<text x="47.4" y="341" font-size="7.1" textLength="12.7" lengthAdjust="spacingAndGlyphs">150</text>
<rect x="62.65" y="336.35" width="4.6" height="3.9" fill="#8a8a8a" stroke="#000" stroke-width="0.7"/>
<text x="67.5" y="341" font-size="7.1" textLength="24" lengthAdjust="spacingAndGlyphs">5KOIIA</text>
<text x="93.7" y="341" font-size="7.1" textLength="8.4" lengthAdjust="spacingAndGlyphs">50</text>
<rect x="104.15" y="336.35" width="4.6" height="4" fill="#000" stroke="#000" stroke-width="0.7"/>
<text x="109" y="341" font-size="7.1" textLength="25.4" lengthAdjust="spacingAndGlyphs">5KOIIA</text>
<text x="136.7" y="341" font-size="7.1" textLength="11.7" lengthAdjust="spacingAndGlyphs">150</text>
<circle cx="202" cy="237.2" r="2.15" fill="#fff" stroke="#000" stroke-width="0.9"/>
<text x="204.3" y="239.4" font-size="7.3" textLength="16" lengthAdjust="spacingAndGlyphs">3KO</text>
<circle cx="239.5" cy="237.2" r="2.2" fill="#000" stroke="#000" stroke-width="0.7"/>
<text x="241.5" y="239.4" font-size="7.3" textLength="22.4" lengthAdjust="spacingAndGlyphs">3KOIIA</text>
<circle cx="202.2" cy="338.3" r="2" fill="#fff" stroke="#000" stroke-width="0.8"/>
<text x="204.5" y="340.7" font-size="7.3" textLength="15.4" lengthAdjust="spacingAndGlyphs">3KO</text>
<circle cx="239.6" cy="338.2" r="2.2" fill="#000" stroke="#000" stroke-width="0.7"/>
<text x="241.6" y="340.7" font-size="7.3" textLength="23.5" lengthAdjust="spacingAndGlyphs">3KOIIA</text>
<circle cx="281.2" cy="338.2" r="2.2" fill="#8a8a8a" stroke="#000" stroke-width="0.7"/>
<text x="283.3" y="340.7" font-size="7.3" textLength="41.4" lengthAdjust="spacingAndGlyphs">3KOIIA+IV.3</text>
<circle cx="376.3" cy="237" r="2.2" fill="#fff" stroke="#000" stroke-width="0.9"/>
<text x="378.6" y="239.2" font-size="7.3" textLength="14.6" lengthAdjust="spacingAndGlyphs">3KO</text>
<circle cx="412.8" cy="236.9" r="2.3" fill="#000" stroke="#000" stroke-width="0.7"/>
<text x="415" y="239.2" font-size="7.3" textLength="21.9" lengthAdjust="spacingAndGlyphs">3KOIIA</text>
<circle cx="376.1" cy="338.2" r="2" fill="#fff" stroke="#000" stroke-width="0.8"/>
<text x="378.6" y="340.7" font-size="7.3" textLength="15.3" lengthAdjust="spacingAndGlyphs">3KO</text>
<circle cx="413.4" cy="338.2" r="2.2" fill="#000" stroke="#000" stroke-width="0.7"/>
<text x="415.6" y="340.7" font-size="7.3" textLength="36.8" lengthAdjust="spacingAndGlyphs">3KOIIA+iso</text>
<circle cx="461.3" cy="338.2" r="2.2" fill="#8a8a8a" stroke="#000" stroke-width="0.7"/>
<text x="463.5" y="340.7" font-size="7.3" textLength="40.2" lengthAdjust="spacingAndGlyphs">3KOIIA+IV.3</text>
<rect x="216.3" y="22.4" width="164" height="4.2" fill="#cdcdcd"/>
<rect x="216.3" y="55.2" width="164" height="4.2" fill="#cdcdcd"/>
<rect x="384.2" y="55.2" width="25" height="4.2" fill="#cdcdcd"/>
<rect x="216.3" y="85.6" width="164" height="4.2" fill="#cdcdcd"/>
<rect x="384.2" y="85.6" width="25" height="4.2" fill="#cdcdcd"/>
<rect x="216.3" y="115.4" width="164" height="4.2" fill="#cdcdcd"/>
<rect x="384.2" y="115.4" width="25" height="4.2" fill="#cdcdcd"/>
<path d="M187.2,16.1 C190,16.1 192,14.3 194.2,12.7 C196.5,10.9 200.5,10.7 202.6,11.9 C203.8,12.7 204.5,13.7 204.8,14.9" fill="none" stroke="#6a6a6a" stroke-width="1.1"/>
<path d="M204,14.5 C209.6,14.5 213.0,18.5 213.0,23.3 C213.0,27 209.5,31 206.4,33.9 Q204,35.7 201.6,33.9 C198.5,31 195.0,27 195.0,23.3 C195.0,18.5 198.4,14.5 204,14.5 Z" fill="#fbfbfb" stroke="#5a5a5a" stroke-width="0.85"/>
<path d="M195.4,21 C196.5,16.1 200,15 204,15 C208,15 211.5,16.1 212.6,21 C210,21.5 206.5,22.7 204,25.3 C201.5,22.7 198,21.5 195.4,21 Z" fill="#dedede"/>
<path d="M195.4,22 C198,22.5 201.5,23.7 204,26.3 C206.5,23.7 210,22.5 212.6,22" fill="none" stroke="#888" stroke-width="0.6"/>
<line x1="204" y1="26.3" x2="204" y2="29" stroke="#999" stroke-width="0.5"/>
<circle cx="201.7" cy="30.1" r="0.8" fill="#222"/>
<circle cx="206.2" cy="30.1" r="0.8" fill="#222"/>
<circle cx="204" cy="34.1" r="0.6" fill="#555"/>
<text x="204" y="21.5" font-size="5.0" font-weight="bold" text-anchor="middle" fill="#222">wt</text>
<path d="M187.2,46.6 C190,46.6 192,44.8 194.2,43.2 C196.5,41.4 200.5,41.2 202.6,42.4 C203.8,43.2 204.5,44.2 204.8,45.4" fill="none" stroke="#6a6a6a" stroke-width="1.1"/>
<path d="M204,45 C209.6,45 213.0,49 213.0,53.8 C213.0,57.5 209.5,61.5 206.4,64.4 Q204,66.2 201.6,64.4 C198.5,61.5 195.0,57.5 195.0,53.8 C195.0,49 198.4,45 204,45 Z" fill="#fbfbfb" stroke="#5a5a5a" stroke-width="0.85"/>
<path d="M195.4,51.5 C196.5,46.6 200,45.5 204,45.5 C208,45.5 211.5,46.6 212.6,51.5 C210,52 206.5,53.2 204,55.8 C201.5,53.2 198,52 195.4,51.5 Z" fill="#dedede"/>
<path d="M195.4,52.5 C198,53 201.5,54.2 204,56.8 C206.5,54.2 210,53 212.6,52.5" fill="none" stroke="#888" stroke-width="0.6"/>
<line x1="204" y1="56.8" x2="204" y2="59.5" stroke="#999" stroke-width="0.5"/>
<circle cx="201.7" cy="60.6" r="0.8" fill="#222"/>
<circle cx="206.2" cy="60.6" r="0.8" fill="#222"/>
<circle cx="204" cy="64.6" r="0.6" fill="#555"/>
<text x="204" y="52" font-size="4.7" font-weight="bold" text-anchor="middle" fill="#222">FcRγ</text>
<path d="M187.2,78.9 C190,78.9 192,77.1 194.2,75.5 C196.5,73.7 200.5,73.5 202.6,74.7 C203.8,75.5 204.5,76.5 204.8,77.7" fill="none" stroke="#6a6a6a" stroke-width="1.1"/>
<path d="M204,77.3 C209.6,77.3 213.0,81.3 213.0,86.1 C213.0,89.8 209.5,93.8 206.4,96.7 Q204,98.5 201.6,96.7 C198.5,93.8 195.0,89.8 195.0,86.1 C195.0,81.3 198.4,77.3 204,77.3 Z" fill="#fbfbfb" stroke="#5a5a5a" stroke-width="0.85"/>
<path d="M195.4,83.8 C196.5,78.9 200,77.8 204,77.8 C208,77.8 211.5,78.9 212.6,83.8 C210,84.3 206.5,85.5 204,88.1 C201.5,85.5 198,84.3 195.4,83.8 Z" fill="#dedede"/>
<path d="M195.4,84.8 C198,85.3 201.5,86.5 204,89.1 C206.5,86.5 210,85.3 212.6,84.8" fill="none" stroke="#888" stroke-width="0.6"/>
<line x1="204" y1="89.1" x2="204" y2="91.8" stroke="#999" stroke-width="0.5"/>
<circle cx="201.7" cy="92.9" r="0.8" fill="#222"/>
<circle cx="206.2" cy="92.9" r="0.8" fill="#222"/>
<circle cx="204" cy="96.9" r="0.6" fill="#555"/>
<text x="204" y="84.3" font-size="5.0" font-weight="bold" text-anchor="middle" fill="#222">3KO</text>
<path d="M187.2,109.9 C190,109.9 192,108.1 194.2,106.5 C196.5,104.7 200.5,104.5 202.6,105.7 C203.8,106.5 204.5,107.5 204.8,108.7" fill="none" stroke="#6a6a6a" stroke-width="1.1"/>
<path d="M204,108.3 C209.6,108.3 213.0,112.3 213.0,117.1 C213.0,120.8 209.5,124.8 206.4,127.7 Q204,129.5 201.6,127.7 C198.5,124.8 195.0,120.8 195.0,117.1 C195.0,112.3 198.4,108.3 204,108.3 Z" fill="#fbfbfb" stroke="#5a5a5a" stroke-width="0.85"/>
<path d="M195.4,114.8 C196.5,109.9 200,108.8 204,108.8 C208,108.8 211.5,109.9 212.6,114.8 C210,115.3 206.5,116.5 204,119.1 C201.5,116.5 198,115.3 195.4,114.8 Z" fill="#dedede"/>
<path d="M195.4,115.8 C198,116.3 201.5,117.5 204,120.1 C206.5,117.5 210,116.3 212.6,115.8" fill="none" stroke="#888" stroke-width="0.6"/>
<line x1="204" y1="120.1" x2="204" y2="122.8" stroke="#999" stroke-width="0.5"/>
<circle cx="201.7" cy="123.9" r="0.8" fill="#222"/>
<circle cx="206.2" cy="123.9" r="0.8" fill="#222"/>
<circle cx="204" cy="127.9" r="0.6" fill="#555"/>
<text x="204" y="115.3" font-size="5.0" font-weight="bold" text-anchor="middle" fill="#222">5KO</text>
<path d="M226.4,15.13 C224.7,17.3 221.26,18.67 218.78,17.3 C217.1,16.22 217.51,13.67 219.78,12.13 C222.24,10.5 226.18,10.5 227.98,11.59 Q229.46,10.13 230.73,11.59 C232.61,10.5 236.56,10.5 239.04,12.13 C241.5,13.67 241.79,16.4 239.83,17.57 C237.56,18.85 234.6,17.75 232.8,15.4" fill="#fff" stroke="#444" stroke-width="0.75" stroke-linejoin="round"/>
<line x1="231.8" y1="15.3" x2="231.8" y2="31.9" stroke="#666" stroke-width="0.7"/>
<line x1="226.5" y1="20.2" x2="226.5" y2="37.7" stroke="#4a4a4a" stroke-width="1.35"/>
<line x1="226.5" y1="30" x2="226.5" y2="30.8" stroke="#999" stroke-width="1.35"/>
<line x1="229.1" y1="20.2" x2="229.1" y2="37.7" stroke="#4a4a4a" stroke-width="1.35"/>
<line x1="229.1" y1="30" x2="229.1" y2="30.8" stroke="#999" stroke-width="1.35"/>
<path d="M233.9,26.7 V20.7 Q235,18.5 236.2,20.7 V26.9 Q237.3,28.9 238.4,26.9 V20.7 Q239.6,18.5 240.8,20.7 V37.3" fill="none" stroke="#555" stroke-width="0.7"/>
<line x1="240.8" y1="31.5" x2="240.8" y2="37.3" stroke="#333" stroke-width="1.1"/>
<circle cx="252.2" cy="12.1" r="2.6" fill="#fff" stroke="#444" stroke-width="0.7"/>
<circle cx="258.4" cy="11.1" r="3.0" fill="#fff" stroke="#444" stroke-width="0.7"/>
<line x1="255" y1="13.9" x2="255" y2="29.9" stroke="#505050" stroke-width="1.3"/>
<line x1="254.3" y1="16" x2="255.7" y2="17.2" stroke="#aaa" stroke-width="0.5"/>
<line x1="254.3" y1="18.8" x2="255.7" y2="20" stroke="#aaa" stroke-width="0.5"/>
<line x1="254.3" y1="21.6" x2="255.7" y2="22.8" stroke="#aaa" stroke-width="0.5"/>
<line x1="254.3" y1="24.4" x2="255.7" y2="25.6" stroke="#aaa" stroke-width="0.5"/>
<line x1="254.3" y1="27.2" x2="255.7" y2="28.4" stroke="#aaa" stroke-width="0.5"/>
<path d="M253.6,30.9 L255,29.3 L256.4,30.9" fill="none" stroke="#555" stroke-width="0.7"/>
<path d="M272.84,15.01 C271.82,16.86 269.75,18.01 268.25,16.86 C267.24,15.94 267.48,13.79 268.85,12.48 C270.34,11.1 272.71,11.1 273.79,12.02 Q274.68,10.79 275.45,12.02 C276.59,11.1 278.96,11.1 280.46,12.48 C281.94,13.79 282.12,16.09 280.93,17.09 C279.57,18.16 277.78,17.24 276.7,15.24" fill="#fff" stroke="#444" stroke-width="0.75" stroke-linejoin="round"/>
<path d="M281.7,15.13 C280,17.3 276.56,18.67 274.08,17.3 C272.4,16.22 272.81,13.67 275.08,12.13 C277.54,10.5 281.48,10.5 283.28,11.59 Q284.76,10.13 286.03,11.59 C287.91,10.5 291.86,10.5 294.34,12.13 C296.8,13.67 297.09,16.4 295.13,17.57 C292.86,18.85 289.9,17.75 288.1,15.4" fill="#fff" stroke="#444" stroke-width="0.75" stroke-linejoin="round"/>
<line x1="287.9" y1="15.3" x2="287.9" y2="32.2" stroke="#999" stroke-width="0.9"/>
<line x1="281.9" y1="20.2" x2="281.9" y2="37.7" stroke="#4a4a4a" stroke-width="1.35"/>
<line x1="281.9" y1="30" x2="281.9" y2="30.8" stroke="#999" stroke-width="1.35"/>
<line x1="284.6" y1="20.2" x2="284.6" y2="37.7" stroke="#4a4a4a" stroke-width="1.35"/>
<line x1="284.6" y1="30" x2="284.6" y2="30.8" stroke="#999" stroke-width="1.35"/>
<path d="M309.64,15.07 C308.01,17.21 304.71,18.56 302.33,17.21 C300.73,16.14 301.12,13.63 303.29,12.11 C305.65,10.5 309.43,10.5 311.15,11.58 Q312.57,10.14 313.78,11.58 C315.59,10.5 319.37,10.5 321.75,12.11 C324.11,13.63 324.38,16.32 322.51,17.48 C320.33,18.74 317.49,17.66 315.77,15.34" fill="#fff" stroke="#666" stroke-width="0.7" stroke-linejoin="round"/>
<line x1="315" y1="15.3" x2="315" y2="35.3" stroke="#666" stroke-width="0.7"/>
<line x1="315" y1="29.3" x2="315" y2="35.3" stroke="#222" stroke-width="1.5"/>
<path d="M336.66,15.07 C334.97,17.21 331.55,18.56 329.07,17.21 C327.4,16.14 327.81,13.63 330.07,12.11 C332.52,10.5 336.45,10.5 338.23,11.58 Q339.71,10.14 340.97,11.58 C342.85,10.5 346.78,10.5 349.25,12.11 C351.7,13.63 351.99,16.32 350.04,17.48 C347.78,18.74 344.83,17.66 343.04,15.34" fill="#fff" stroke="#444" stroke-width="0.75" stroke-linejoin="round"/>
<line x1="342.2" y1="15.3" x2="342.2" y2="32.3" stroke="#999" stroke-width="0.9"/>
<line x1="336.6" y1="20.2" x2="336.6" y2="37.7" stroke="#4a4a4a" stroke-width="1.35"/>
<line x1="336.6" y1="30" x2="336.6" y2="30.8" stroke="#999" stroke-width="1.35"/>
<line x1="339.2" y1="20.2" x2="339.2" y2="37.7" stroke="#4a4a4a" stroke-width="1.35"/>
<line x1="339.2" y1="30" x2="339.2" y2="30.8" stroke="#999" stroke-width="1.35"/>
<path d="M363.95,14.98 C362.29,17.19 358.9,18.57 356.46,17.19 C354.81,16.09 355.21,13.52 357.44,11.95 C359.86,10.3 363.74,10.3 365.5,11.41 Q366.96,9.93 368.21,11.41 C370.06,10.3 373.94,10.3 376.39,11.95 C378.81,13.52 379.09,16.27 377.16,17.47 C374.93,18.75 372.01,17.65 370.25,15.26" fill="#fff" stroke="#333" stroke-width="0.8" stroke-linejoin="round"/>
<line x1="369.9" y1="15.3" x2="369.9" y2="32.3" stroke="#999" stroke-width="0.9"/>
<line x1="363.6" y1="20.2" x2="363.6" y2="37.7" stroke="#4a4a4a" stroke-width="1.35"/>
<line x1="363.6" y1="30" x2="363.6" y2="30.8" stroke="#999" stroke-width="1.35"/>
<line x1="366.1" y1="20.2" x2="366.1" y2="37.7" stroke="#4a4a4a" stroke-width="1.35"/>
<line x1="366.1" y1="30" x2="366.1" y2="30.8" stroke="#999" stroke-width="1.35"/>
<text x="224" y="6.6" font-size="4.8" font-weight="bold" fill="#111" textLength="10.6" lengthAdjust="spacingAndGlyphs">FcεRI</text>
<text x="248.5" y="6.6" font-size="4.8" font-weight="bold" fill="#111" textLength="11.9" lengthAdjust="spacingAndGlyphs">FcεRII</text>
<text x="277.9" y="6.6" font-size="4.8" font-weight="bold" fill="#111" textLength="11.4" lengthAdjust="spacingAndGlyphs">FcγRI</text>
<text x="304" y="6.6" font-size="4.8" font-weight="bold" fill="#111" textLength="16.3" lengthAdjust="spacingAndGlyphs">FcγRIIB</text>
<text x="330.1" y="6.6" font-size="4.8" font-weight="bold" fill="#111" textLength="18" lengthAdjust="spacingAndGlyphs">FcγRIIIA</text>
<text x="358.7" y="6.6" font-size="4.8" font-weight="bold" fill="#111" textLength="14.7" lengthAdjust="spacingAndGlyphs">FcγRIV</text>
<text x="387.3" y="36.4" font-size="4.8" font-weight="bold" fill="#111" textLength="18.3" lengthAdjust="spacingAndGlyphs">hFcγRIIA</text>
<circle cx="252.2" cy="44.9" r="2.6" fill="#fff" stroke="#444" stroke-width="0.7"/>
<circle cx="258.4" cy="43.9" r="3.0" fill="#fff" stroke="#444" stroke-width="0.7"/>
<line x1="255" y1="46.7" x2="255" y2="62.7" stroke="#505050" stroke-width="1.3"/>
<line x1="254.3" y1="48.8" x2="255.7" y2="50" stroke="#aaa" stroke-width="0.5"/>
<line x1="254.3" y1="51.6" x2="255.7" y2="52.8" stroke="#aaa" stroke-width="0.5"/>
<line x1="254.3" y1="54.4" x2="255.7" y2="55.6" stroke="#aaa" stroke-width="0.5"/>
<line x1="254.3" y1="57.2" x2="255.7" y2="58.4" stroke="#aaa" stroke-width="0.5"/>
<line x1="254.3" y1="60" x2="255.7" y2="61.2" stroke="#aaa" stroke-width="0.5"/>
<path d="M253.6,63.7 L255,62.1 L256.4,63.7" fill="none" stroke="#555" stroke-width="0.7"/>
<path d="M309.64,47.87 C308.01,50.01 304.71,51.36 302.33,50.01 C300.73,48.94 301.12,46.43 303.29,44.91 C305.65,43.3 309.43,43.3 311.15,44.38 Q312.57,42.94 313.78,44.38 C315.59,43.3 319.37,43.3 321.75,44.91 C324.11,46.43 324.38,49.12 322.51,50.28 C320.33,51.54 317.49,50.46 315.77,48.14" fill="#fff" stroke="#666" stroke-width="0.7" stroke-linejoin="round"/>
<line x1="315" y1="48.1" x2="315" y2="68.1" stroke="#666" stroke-width="0.7"/>
<line x1="315" y1="62.1" x2="315" y2="68.1" stroke="#222" stroke-width="1.5"/>
<path d="M393.21,46.84 C391.49,49.21 388.01,50.7 385.49,49.21 C383.79,48.03 384.21,45.26 386.51,43.58 C389,41.8 392.99,41.8 394.81,42.99 Q396.31,41.4 397.59,42.99 C399.5,41.8 403.49,41.8 406.01,43.58 C408.5,45.26 408.79,48.23 406.81,49.51 C404.51,50.89 401.51,49.7 399.69,47.14" fill="#fff" stroke="#111" stroke-width="0.9" stroke-linejoin="round"/>
<line x1="399.7" y1="47" x2="399.7" y2="68.6" stroke="#444" stroke-width="0.8"/>
<path d="M226.4,78.33 C224.7,80.5 221.26,81.87 218.78,80.5 C217.1,79.42 217.51,76.87 219.78,75.33 C222.24,73.7 226.18,73.7 227.98,74.79 Q229.46,73.33 230.73,74.79 C232.61,73.7 236.56,73.7 239.04,75.33 C241.5,76.87 241.79,79.6 239.83,80.77 C237.56,82.05 234.6,80.95 232.8,78.6" fill="#fff" stroke="#444" stroke-width="0.75" stroke-linejoin="round"/>
<line x1="231.8" y1="78.5" x2="231.8" y2="95.1" stroke="#666" stroke-width="0.7"/>
<line x1="226.5" y1="83.4" x2="226.5" y2="100.9" stroke="#4a4a4a" stroke-width="1.35"/>
<line x1="226.5" y1="93.2" x2="226.5" y2="94" stroke="#999" stroke-width="1.35"/>
<line x1="229.1" y1="83.4" x2="229.1" y2="100.9" stroke="#4a4a4a" stroke-width="1.35"/>
<line x1="229.1" y1="93.2" x2="229.1" y2="94" stroke="#999" stroke-width="1.35"/>
<path d="M233.9,89.9 V83.9 Q235,81.7 236.2,83.9 V90.1 Q237.3,92.1 238.4,90.1 V83.9 Q239.6,81.7 240.8,83.9 V100.5" fill="none" stroke="#555" stroke-width="0.7"/>
<line x1="240.8" y1="94.7" x2="240.8" y2="100.5" stroke="#333" stroke-width="1.1"/>
<circle cx="252.2" cy="75.3" r="2.6" fill="#fff" stroke="#444" stroke-width="0.7"/>
<circle cx="258.4" cy="74.3" r="3.0" fill="#fff" stroke="#444" stroke-width="0.7"/>
<line x1="255" y1="77.1" x2="255" y2="93.1" stroke="#505050" stroke-width="1.3"/>
<line x1="254.3" y1="79.2" x2="255.7" y2="80.4" stroke="#aaa" stroke-width="0.5"/>
<line x1="254.3" y1="82" x2="255.7" y2="83.2" stroke="#aaa" stroke-width="0.5"/>
<line x1="254.3" y1="84.8" x2="255.7" y2="86" stroke="#aaa" stroke-width="0.5"/>
<line x1="254.3" y1="87.6" x2="255.7" y2="88.8" stroke="#aaa" stroke-width="0.5"/>
<line x1="254.3" y1="90.4" x2="255.7" y2="91.6" stroke="#aaa" stroke-width="0.5"/>
<path d="M253.6,94.1 L255,92.5 L256.4,94.1" fill="none" stroke="#555" stroke-width="0.7"/>
<path d="M363.95,78.18 C362.29,80.39 358.9,81.77 356.46,80.39 C354.81,79.29 355.21,76.72 357.44,75.15 C359.86,73.5 363.74,73.5 365.5,74.61 Q366.96,73.13 368.21,74.61 C370.06,73.5 373.94,73.5 376.39,75.15 C378.81,76.72 379.09,79.47 377.16,80.67 C374.93,81.95 372.01,80.85 370.25,78.46" fill="#fff" stroke="#333" stroke-width="0.8" stroke-linejoin="round"/>
<line x1="369.7" y1="78.5" x2="369.7" y2="95.5" stroke="#999" stroke-width="0.9"/>
<line x1="363.6" y1="83.4" x2="363.6" y2="100.9" stroke="#4a4a4a" stroke-width="1.35"/>
<line x1="363.6" y1="93.2" x2="363.6" y2="94" stroke="#999" stroke-width="1.35"/>
<line x1="366.1" y1="83.4" x2="366.1" y2="100.9" stroke="#4a4a4a" stroke-width="1.35"/>
<line x1="366.1" y1="93.2" x2="366.1" y2="94" stroke="#999" stroke-width="1.35"/>
<path d="M393.21,78.24 C391.49,80.61 388.01,82.1 385.49,80.61 C383.79,79.43 384.21,76.66 386.51,74.98 C389,73.2 392.99,73.2 394.81,74.39 Q396.31,72.8 397.59,74.39 C399.5,73.2 403.49,73.2 406.01,74.98 C408.5,76.66 408.79,79.63 406.81,80.91 C404.51,82.3 401.51,81.11 399.69,78.54" fill="#fff" stroke="#111" stroke-width="0.9" stroke-linejoin="round"/>
<line x1="399.7" y1="78.4" x2="399.7" y2="99" stroke="#444" stroke-width="0.8"/>
<path d="M363.95,107.98 C362.29,110.19 358.9,111.57 356.46,110.19 C354.81,109.09 355.21,106.52 357.44,104.95 C359.86,103.3 363.74,103.3 365.5,104.41 Q366.96,102.93 368.21,104.41 C370.06,103.3 373.94,103.3 376.39,104.95 C378.81,106.52 379.09,109.27 377.16,110.47 C374.93,111.75 372.01,110.65 370.25,108.26" fill="#fff" stroke="#333" stroke-width="0.8" stroke-linejoin="round"/>
<line x1="369.4" y1="108.3" x2="369.4" y2="125.3" stroke="#999" stroke-width="0.9"/>
<line x1="363.6" y1="113.2" x2="363.6" y2="130.7" stroke="#4a4a4a" stroke-width="1.35"/>
<line x1="363.6" y1="123" x2="363.6" y2="123.8" stroke="#999" stroke-width="1.35"/>
<line x1="366.1" y1="113.2" x2="366.1" y2="130.7" stroke="#4a4a4a" stroke-width="1.35"/>
<line x1="366.1" y1="123" x2="366.1" y2="123.8" stroke="#999" stroke-width="1.35"/>
<path d="M393.21,108.64 C391.49,111.01 388.01,112.5 385.49,111.01 C383.79,109.83 384.21,107.06 386.51,105.38 C389,103.6 392.99,103.6 394.81,104.79 Q396.31,103.2 397.59,104.79 C399.5,103.6 403.49,103.6 406.01,105.38 C408.5,107.06 408.79,110.03 406.81,111.31 C404.51,112.69 401.51,111.5 399.69,108.94" fill="#fff" stroke="#111" stroke-width="0.9" stroke-linejoin="round"/>
<line x1="399.7" y1="108.8" x2="399.7" y2="128.8" stroke="#444" stroke-width="0.8"/>
</svg></body></html>
